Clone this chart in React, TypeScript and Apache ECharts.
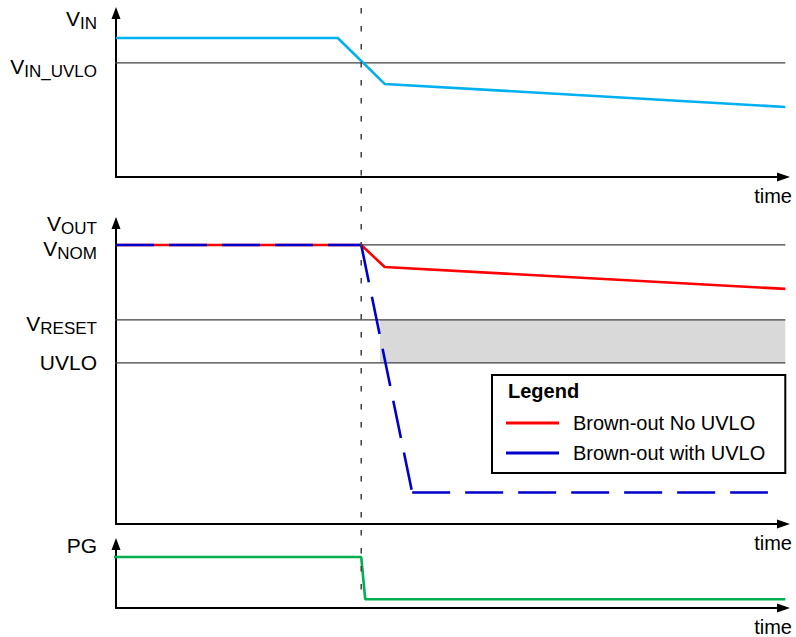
import React, { useEffect, useRef } from 'react';
import * as echarts from 'echarts';

const FONT = '"Liberation Sans", Arial, Helvetica, sans-serif';

// Time is on a 0..100 scale across each panel
const vinTime = [0, 33.1, 40.1, 99.9];
const vinValue = [8.8, 8.8, 5.89, 4.43];
const vinRefLevels = [7.22];
const vinRefLabels = ['{v|V}{s|IN_UVLO}'];

const voutRefLevels = [9.46, 6.92, 5.46];
const voutRefLabels = ['{v|V}{s|NOM}', '{v|V}{s|RESET}', '{u|UVLO}'];
const noUvloTime = [0, 36.6, 40.1, 99.9];
const noUvloValue = [9.46, 9.46, 8.71, 7.97];
const withUvloTime = [0, 36.6, 44.2, 97.3];
const withUvloValue = [9.46, 9.46, 1.07, 1.07];
const bandTime = [39.4, 99.9];
const bandValue = [5.46, 6.92];

const pgRefLevels: number[] = [];
const pgTime = [-1.6, 36.6, 37.2, 99.9];
const pgValue = [8.79, 8.79, 1.5, 1.5];

const eventTime = 36.6;
const refLineStart = -1.6;
const refLineEnd = 99.9;

const seriesNames = ['Brown-out No UVLO', 'Brown-out with UVLO'];
const axisNames = ['{v|V}{s|IN}', '{v|V}{s|OUT}', '{u|PG}'];

const CYAN = '#00b0f0';
const RED = '#ff0000';
const BLUE = '#0000cc';
const GREEN = '#00b050';
const REF = '#404040';

const zip = (t: number[], v: number[]) => t.map((x, i) => [x, v[i]]);

const rich = {
  v: { fontSize: 21, fontFamily: FONT, color: '#000', lineHeight: 24, padding: [8, 0, 0, 0] },
  s: { fontSize: 17, fontFamily: FONT, color: '#000', lineHeight: 17, padding: [17.4, 0, 0, 0] },
  u: { fontSize: 21, fontFamily: FONT, color: '#000', lineHeight: 24 },
};

const grids = [
  { top: 19, height: 158 },
  { top: 229, height: 295 },
  { top: 550, height: 58 },
];
const nameGaps = [4.5, 9.7, 4.7];
const levelSets = [vinRefLevels, voutRefLevels, pgRefLevels];
const labelSets = [vinRefLabels, voutRefLabels, [] as string[]];

export default function App() {
  const ref = useRef<HTMLDivElement>(null);
  useEffect(() => {
    if (!ref.current) return;
    const chart = echarts.init(ref.current, undefined, { renderer: 'svg' });

    const gridOpts: any[] = grids.map((g) => ({
      left: 116, width: 670, top: g.top, height: g.height, outerBoundsMode: 'none', containLabel: false,
    }));
    gridOpts.push({ left: 116, width: 670, top: 8, height: 590, outerBoundsMode: 'none', containLabel: false });

    const xAxes: any[] = grids.map((_, i) => ({
      type: 'value', gridIndex: i, min: 0, max: 100,
      axisLine: {
        show: true, onZero: false,
        symbol: ['none', 'triangle'], symbolSize: [9, 13], symbolOffset: [0, -2.5],
        lineStyle: { color: '#000', width: 2 },
      },
      axisTick: { show: false }, axisLabel: { show: false }, splitLine: { show: false },
      name: 'time', nameLocation: 'end', nameGap: 6, nameMoveOverlap: false,
      nameTextStyle: {
        fontSize: 20, fontFamily: FONT, color: '#000', align: 'right', verticalAlign: 'top',
        lineHeight: 22, padding: [8, 0, 0, 0],
      },
    }));
    xAxes.push({ type: 'value', gridIndex: 3, min: 0, max: 100, show: false });

    const yAxes: any[] = grids.map((_, i) => ({
      type: 'value', gridIndex: i, min: 0, max: 10,
      axisLine: {
        show: true, onZero: false,
        symbol: ['none', 'triangle'], symbolSize: [9, 12], symbolOffset: [0, 6],
        lineStyle: { color: '#000', width: 2 },
      },
      axisTick: { show: false }, splitLine: { show: false },
      axisLabel: {
        show: levelSets[i].length > 0,
        customValues: levelSets[i],
        margin: 19,
        formatter: (val: number) => {
          const idx = levelSets[i].findIndex((l) => Math.abs(l - val) < 1e-6);
          return idx >= 0 ? labelSets[i][idx] : '';
        },
        rich,
      },
      name: axisNames[i], nameLocation: 'end', nameGap: nameGaps[i], nameMoveOverlap: false,
      nameTextStyle: { align: 'right', verticalAlign: 'middle', padding: [0, 19, 0, 0], rich },
    }));
    yAxes.push({ type: 'value', gridIndex: 3, min: 0, max: 1, show: false });

    const refSeries: any[] = [];
    levelSets.forEach((levels, gi) => {
      levels.forEach((lvl) => {
        refSeries.push({
          type: 'line', xAxisIndex: gi, yAxisIndex: gi, silent: true, clip: false,
          symbol: 'none', data: [[refLineStart, lvl], [refLineEnd, lvl]],
          lineStyle: { color: REF, width: 1.2 }, z: 1,
        });
      });
    });

    const band = {
      type: 'line', xAxisIndex: 1, yAxisIndex: 1, silent: true, symbol: 'none', data: [],
      markArea: {
        silent: true,
        itemStyle: { color: '#d9d9d9' },
        data: [[{ xAxis: bandTime[0], yAxis: bandValue[0] }, { xAxis: bandTime[1], yAxis: bandValue[1] }]],
      },
      z: 0,
    };

    const blueSegments: any[] = [];
    for (let k = 0; k < withUvloTime.length - 1; k++) {
      blueSegments.push({
        name: seriesNames[1], type: 'line', xAxisIndex: 1, yAxisIndex: 1, symbol: 'none', clip: false,
        color: BLUE,
        data: [[withUvloTime[k], withUvloValue[k]], [withUvloTime[k + 1], withUvloValue[k + 1]]],
        lineStyle: { color: BLUE, width: 2.6, type: [38, 15] }, z: 4,
      });
    }

    chart.setOption({
      animation: false,
      backgroundColor: '#fff',
      grid: gridOpts,
      xAxis: xAxes,
      yAxis: yAxes,
      legend: {
        data: seriesNames,
        orient: 'vertical', left: 492, top: 375,
        icon: 'rect', itemWidth: 53, itemHeight: 3, itemGap: 6,
        padding: [36, 20, 8, 14],
        borderColor: '#000', borderWidth: 2, backgroundColor: '#fff',
        itemStyle: { borderWidth: 0 },
        textStyle: { fontSize: 20, fontFamily: FONT, color: '#000', lineHeight: 24, padding: [0, 0, 0, 9] },
        selectedMode: false,
      },
      graphic: [
        {
          type: 'text', x: 508, y: 391, z: 100,
          style: { text: 'Legend', fontSize: 20, fontWeight: 'bold', fontFamily: FONT, fill: '#000', verticalAlign: 'middle', align: 'left' },
        },
      ],
      series: [
        band,
        ...refSeries,
        {
          type: 'line', xAxisIndex: 0, yAxisIndex: 0, symbol: 'none', clip: false, color: CYAN,
          data: zip(vinTime, vinValue), lineStyle: { color: CYAN, width: 2.6 }, z: 3,
        },
        {
          name: seriesNames[0], type: 'line', xAxisIndex: 1, yAxisIndex: 1, symbol: 'none', clip: false, color: RED,
          data: zip(noUvloTime, noUvloValue), lineStyle: { color: RED, width: 2.6 }, z: 3,
        },
        ...blueSegments,
        {
          type: 'line', xAxisIndex: 2, yAxisIndex: 2, symbol: 'none', clip: false, color: GREEN,
          data: zip(pgTime, pgValue), lineStyle: { color: GREEN, width: 2.6 }, z: 3,
        },
        {
          type: 'line', xAxisIndex: 3, yAxisIndex: 3, symbol: 'none', clip: false, silent: true, color: REF,
          data: [[eventTime, 1], [eventTime, 0]], lineStyle: { color: REF, width: 1.5, type: [5.5, 12.5] }, z: 5,
        },
      ],
    });
    return () => chart.dispose();
  }, []);
  return <div ref={ref} style={{ position: 'absolute', left: 0, top: 0, width: 796, height: 637 }} />;
}
